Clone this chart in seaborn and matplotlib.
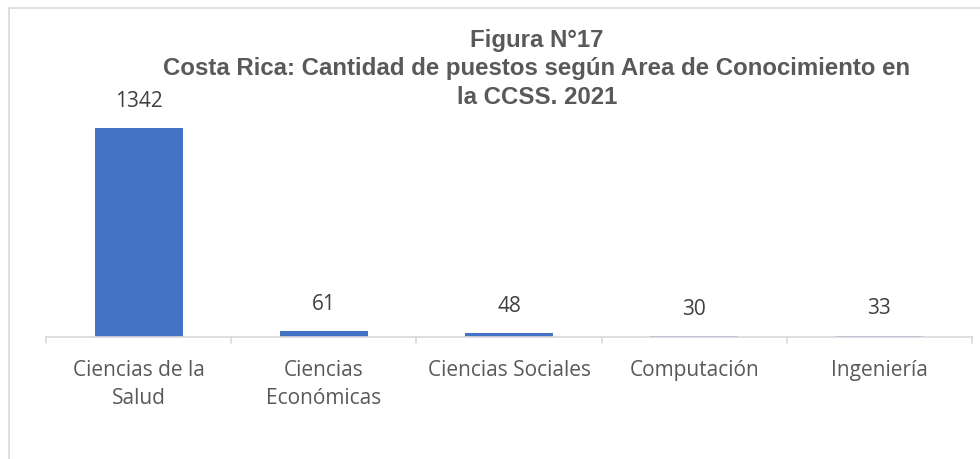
import matplotlib
matplotlib.use("Agg")
import matplotlib.pyplot as plt
import seaborn as sns
import pandas as pd
from matplotlib.patches import Rectangle

categories = ["Ciencias de la\nSalud", "Ciencias\nEconómicas", "Ciencias Sociales", "Computación", "Ingeniería"]
values = [1342, 61, 48, 30, 33]
title_lines = ["Figura N°17",
               "Costa Rica: Cantidad de puestos según Area de Conocimiento en",
               "la CCSS. 2021"]

sns.set_theme(style="white")
plt.rcParams['font.family'] = ['Open Sans', 'DejaVu Sans']

W, H = 980, 460
fig = plt.figure(figsize=(W / 100, H / 100), dpi=100)

# outer chart frame (extends past right/bottom edges)
fig.patches.append(Rectangle((8.5 / W, -0.1), 1.2, (H - 8.5) / H + 0.1,
                             transform=fig.transFigure, fill=False,
                             edgecolor="#d9d9d9", linewidth=1.2))

ax_left, ax_right = 46, 972
ax_top, ax_bottom = 60, 338
ax = fig.add_axes([ax_left / W, (H - ax_bottom) / H,
                   (ax_right - ax_left) / W, (ax_bottom - ax_top) / H])

df = pd.DataFrame({"cat": categories, "val": values})
sns.barplot(data=df, x="cat", y="val", color="#4472C4", saturation=1,
            width=0.475, linewidth=0, ax=ax)

ymin = 24
px_per_unit = 209 / (1342 - ymin)
ax.set_ylim(ymin, ymin + (ax_bottom - ax_top) / px_per_unit)
ax.set_xlim(-0.5, len(categories) - 0.5)

for i, v in enumerate(values):
    ax.annotate(str(v), xy=(i, v), xytext=(0, 20), textcoords="offset points",
                ha="center", va="center", fontsize=15, color="#404040")

for s in ["top", "right", "left"]:
    ax.spines[s].set_visible(False)
ax.spines["bottom"].set_color("#d9d9d9")
ax.spines["bottom"].set_linewidth(1.2)
ax.set_yticks([])
ax.set_xlabel("")
ax.set_ylabel("")

ax.set_xticks(range(len(categories)))
ax.set_xticklabels(categories, fontsize=15, color="#595959", linespacing=1.45)
ax.tick_params(axis="x", length=0, pad=16)
# boundary tick marks
for b in [x - 0.5 for x in range(len(categories) + 1)]:
    ax.plot([b, b], [0, -0.022], transform=ax.get_xaxis_transform(),
            color="#d9d9d9", lw=1.2, clip_on=False)

ys = [41, 69, 97]
for line, y in zip(title_lines, ys):
    fig.text(537 / W, 1 - y / H, line, ha="center", va="center",
             fontsize=17.3, fontweight="bold", color="#595959",
             family="Liberation Sans")

fig.savefig("out.png", dpi=100)
